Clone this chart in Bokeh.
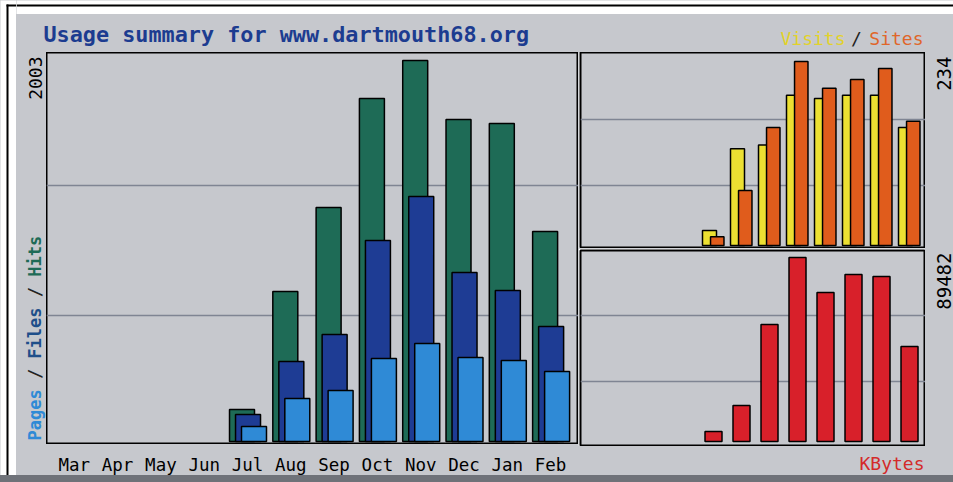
from math import pi
from bokeh.plotting import figure
from bokeh.models import Range1d, FixedTicker, Grid, Label, LabelSet, ColumnDataSource, BoxAnnotation
from bokeh.core.properties import value
from bokeh.layouts import row, column
from bokeh.transform import dodge
from bokeh.embed import file_html
from bokeh.resources import INLINE

# ---------------- data ----------------
months = ["Mar", "Apr", "May", "Jun", "Jul", "Aug", "Sep", "Oct", "Nov", "Dec", "Jan", "Feb"]
hits = [0, 0, 0, 0, 168, 789, 1230, 1803, 2003, 1693, 1672, 1104]
files = [0, 0, 0, 0, 142, 421, 562, 1057, 1288, 888, 794, 605]
pages = [0, 0, 0, 0, 79, 226, 268, 436, 515, 442, 426, 368]
visits = [0, 0, 0, 0, 19, 123, 128, 191, 187, 191, 191, 150]
sites = [0, 0, 0, 0, 11, 70, 150, 234, 200, 211, 225, 158]
kbytes = [0, 0, 0, 0, 4863, 17507, 56897, 89482, 72459, 81212, 80240, 46199]
max_hits_label = "2003"
max_sites_label = "234"
max_kbytes_label = "89482"
title_text = "Usage summary for www.dartmouth68.org"

# ---------------- style ----------------
BG = "#c6c8cd"
GRID = "#7f8593"
BAND = "#6f7279"
MONO = "DejaVu Sans Mono"
C_HITS = "#1e6b56"
C_FILES = "#1e3c94"
C_PAGES = "#2f8ad6"
C_VISITS = "#ece032"
C_SITES = "#e05c1c"
C_KB = "#d8202a"
C_SLASH = "#222222"


def panel(w, h, xr, yr, outline=None, border="white", bg=BG, **kw):
    opts = dict(min_border_left=0, min_border_right=0, min_border_top=0, min_border_bottom=0)
    opts.update(kw)
    p = figure(width=w, height=h, x_range=xr, y_range=yr,
               output_backend="svg", toolbar_location=None,
               x_axis_location=None, y_axis_location=None,
               background_fill_color=bg, border_fill_color=border,
               outline_line_color=outline, outline_line_width=2, **opts)
    p.grid.visible = False
    return p


def text(p, x, y, t, col, size="18px", bold=False, align="left", angle=0):
    p.add_layout(Label(x=x, y=y, text=t, text_color=col, text_font=MONO,
                       text_font_size=size, text_font_style="bold" if bold else "normal",
                       text_align=align, text_baseline="middle", angle=angle))


def black_box(p, left, right, top, bottom):
    p.add_layout(BoxAnnotation(left=left, right=right, top=top, bottom=bottom,
                               fill_color="black", fill_alpha=1, line_color=None))


idx = [i for i, h in enumerate(hits) if h > 0]
src_main = ColumnDataSource(dict(
    x=idx,
    hits=[hits[i] for i in idx],
    files=[files[i] for i in idx],
    pages=[pages[i] for i in idx],
))
idx_r = [i for i, v in enumerate(visits) if v > 0]
src_vs = ColumnDataSource(dict(
    x=idx_r,
    visits=[visits[i] for i in idx_r],
    sites=[sites[i] for i in idx_r],
))
idx_k = [i for i, v in enumerate(kbytes) if v > 0]
src_kb = ColumnDataSource(dict(x=idx_k, kbytes=[kbytes[i] for i in idx_k]))
src_months = ColumnDataSource(dict(x=list(range(len(months))), month=months))

# ---------------- outer white frame with thin black rule ----------------
p_leftline = panel(16, 475, Range1d(0, 16), Range1d(475, 0), bg="white")
black_box(p_leftline, 6, 8, 4, 475)
black_box(p_leftline, 6, 16, 4, 6)
p_topline = panel(937, 14, Range1d(16, 953), Range1d(14, 0), bg="white")
black_box(p_topline, 16, 953, 4, 6)

# ---------------- header strip (title, Visits / Sites) ----------------
p_head = panel(937, 38, Range1d(16, 953), Range1d(52, 14))
text(p_head, 43, 34, title_text, "#1c3c90", size="21.8px", bold=True)
text(p_head, 845, 38, "Visits", "#e2d22a", align="right")
text(p_head, 856, 38, "/", C_SLASH, align="center")
text(p_head, 923, 38, "Sites", "#e0662a", align="right")

# ---------------- left strip (rotated labels) ----------------
p_left = panel(30, 423, Range1d(16, 46), Range1d(475, 52))
cw = 0.602 * 17
for off, txt, col in [(0, "Pages", C_PAGES), (6, "/", C_SLASH), (8, "Files", "#1f4f8a"),
                      (14, "/", C_SLASH), (16, "Hits", C_HITS)]:
    text(p_left, 34, 440 - off * cw, txt, col, size="17px", bold=True, angle=pi / 2)
text(p_left, 34.5, 56, max_hits_label, "black", align="right", angle=pi / 2)

# ---------------- main chart ----------------
main_x = Range1d(-0.642, 11.644)
p_main = panel(532, 392, main_x, Range1d(-15.8, 2045), outline="black")
p_main.add_layout(Grid(dimension=1, ticker=FixedTicker(ticks=[662, 1346]),
                       grid_line_color=GRID, grid_line_width=1.5))
p_main.vbar(x=dodge("x", -0.127), top="hits", bottom=0, width=0.577, source=src_main,
            fill_color=C_HITS, line_color="black", line_width=1.5)
p_main.vbar(x=dodge("x", 0.012), top="files", bottom=0, width=0.577, source=src_main,
            fill_color=C_FILES, line_color="black", line_width=1.5)
p_main.vbar(x=dodge("x", 0.150), top="pages", bottom=0, width=0.577, source=src_main,
            fill_color=C_PAGES, line_color="black", line_width=1.5)

# month labels under the main chart, on the same x scale
p_months = panel(532, 31, main_x, Range1d(475, 444))
p_months.add_layout(LabelSet(x="x", y=464, text="month", source=src_months,
                             text_font=value(MONO), text_font_size="17.5px", text_color="black",
                             text_align="center", text_baseline="middle"))

# ---------------- visits / sites ----------------
p_top = panel(347, 196, Range1d(-0.75, 11.571), Range1d(-3.8, 245.5), outline="black",
              min_border_left=2)
p_top.add_layout(Grid(dimension=1, ticker=FixedTicker(ticks=[76, 160]),
                      grid_line_color=GRID, grid_line_width=1.5))
p_top.vbar(x=dodge("x", -0.143), top="visits", bottom=0, width=0.5, source=src_vs,
           fill_color=C_VISITS, line_color="black", line_width=1.5)
p_top.vbar(x=dodge("x", 0.134), top="sites", bottom=0, width=0.48, source=src_vs,
           fill_color=C_SITES, line_color="black", line_width=1.5)

# ---------------- kbytes ----------------
p_bot = panel(347, 198, Range1d(-0.75, 11.571), Range1d(-2432, 92883), outline="black",
              min_border_left=2, min_border_top=2)
p_bot.add_layout(Grid(dimension=1, ticker=FixedTicker(ticks=[29178, 61274]),
                      grid_line_color=GRID, grid_line_width=1.5))
p_bot.vbar(x="x", top="kbytes", bottom=0, width=0.607, source=src_kb,
           fill_color=C_KB, line_color="black", line_width=1.5)

p_kb = panel(347, 29, Range1d(580, 925), Range1d(475, 446), border=BG, min_border_left=2)
text(p_kb, 924, 463, "KBytes", "#d42a2a", align="right")

# ---------------- right strip (max labels) ----------------
p_right = panel(28, 423, Range1d(925, 953), Range1d(475, 52))
text(p_right, 943, 56, max_sites_label, "black", size="19px", align="right", angle=pi / 2)
text(p_right, 943, 252, max_kbytes_label, "black", size="19px", align="right", angle=pi / 2)

# ---------------- bottom band ----------------
p_band = panel(953, 7, Range1d(0, 953), Range1d(0, 7), bg=BAND, border=BAND)

st = {"background-color": BG}
body = row(p_left, column(p_main, p_months, spacing=0, styles=st),
           column(p_top, p_bot, p_kb, spacing=0, styles=st), p_right,
           spacing=0, styles=st)
layout = column(
    row(p_leftline, column(p_topline, p_head, body, spacing=0, styles=st),
        spacing=0, styles=st),
    p_band,
    spacing=0, styles={"background-color": BAND},
)

open("out.html", "w").write(file_html(layout, INLINE))
